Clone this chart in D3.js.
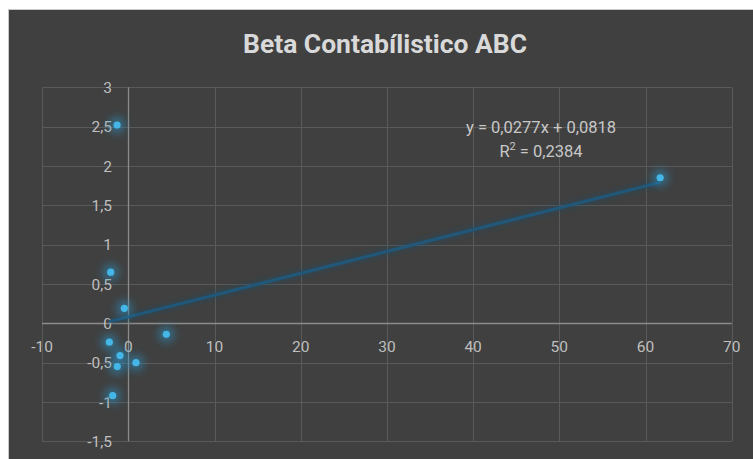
<!DOCTYPE html>
<html>
<head>
<meta charset="utf-8">
<script src="https://cdn.jsdelivr.net/npm/d3@7"></script>
<style>
  html, body { margin: 0; padding: 0; background: #ffffff; }
  svg { display: block; }
</style>
</head>
<body>
<svg id="chart" width="753" height="459"></svg>
<script>
// ---- Data ----
const titleText = "Beta Contabílistico ABC";
const xValues = [-1.3, -2.04, -0.46, 4.41, -2.2, -0.96, -1.28, 0.89, -1.81, 61.7];
const yValues = [2.52, 0.65, 0.19, -0.14, -0.24, -0.41, -0.55, -0.50, -0.92, 1.85];
const xTicks = [-10, 0, 10, 20, 30, 40, 50, 60, 70];
const yTicks = [-1.5, -1, -0.5, 0, 0.5, 1, 1.5, 2, 2.5, 3];
const trendCoef = [0.0277, 0.0818]; // slope, intercept
const equationText = "y = 0,0277x + 0,0818";
const r2Value = "0,2384";

// ---- Setup ----
const svg = d3.select("#chart");
const W = 753, H = 459;
const locale = d3.formatLocale({decimal: ",", thousands: ".", grouping: [3], currency: ["", ""]});
const fmt = v => locale.format("")(v).replace("−", "-");

const x = d3.scaleLinear().domain([-10, 70]).range([42.1, 731.7]);
const y = d3.scaleLinear().domain([-1.5, 3]).range([441.3, 87.3]);

const defs = svg.append("defs");
const glow = defs.append("filter").attr("id", "glow").attr("x", "-200%").attr("y", "-200%").attr("width", "500%").attr("height", "500%");
glow.append("feGaussianBlur").attr("stdDeviation", 4);
const lglow = defs.append("filter").attr("id", "lglow").attr("x", "-10%").attr("y", "-50%").attr("width", "120%").attr("height", "200%");
lglow.append("feGaussianBlur").attr("stdDeviation", 2);

// chart background
svg.append("rect").attr("x", 8.5).attr("y", 9.5).attr("width", W).attr("height", H)
  .attr("fill", "#404040").attr("stroke", "#c8c8c8").attr("stroke-width", 1);

// title
svg.append("text").attr("x", 385).attr("y", 53)
  .attr("text-anchor", "middle")
  .attr("font-family", "Roboto, 'Liberation Sans', sans-serif")
  .attr("font-weight", "bold").attr("font-size", 25)
  .attr("fill", "#d9d9d9")
  .attr("textLength", 284).attr("lengthAdjust", "spacingAndGlyphs")
  .text(titleText);

// gridlines
const grid = svg.append("g").attr("stroke", "#5a5a5a").attr("stroke-width", 1);
grid.selectAll(".gx").data(xTicks.filter(d => d !== 0)).enter().append("line")
  .attr("x1", d => Math.round(x(d)) + 0.5).attr("x2", d => Math.round(x(d)) + 0.5)
  .attr("y1", y(3)).attr("y2", y(-1.5));
grid.selectAll(".gy").data(yTicks.filter(d => d !== 0)).enter().append("line")
  .attr("y1", d => Math.round(y(d)) + 0.5).attr("y2", d => Math.round(y(d)) + 0.5)
  .attr("x1", x(-10)).attr("x2", x(70));

// axes lines (zero)
svg.append("line").attr("x1", x(-10)).attr("x2", x(70))
  .attr("y1", Math.round(y(0)) + 0.5).attr("y2", Math.round(y(0)) + 0.5)
  .attr("stroke", "#8c8c8c").attr("stroke-width", 1.3);
svg.append("line").attr("y1", y(3)).attr("y2", y(-1.5))
  .attr("x1", Math.round(x(0)) + 0.5).attr("x2", Math.round(x(0)) + 0.5)
  .attr("stroke", "#8c8c8c").attr("stroke-width", 1.3);

// tick labels
const labelFont = "Roboto, 'Liberation Sans', sans-serif";
svg.append("g").selectAll("text").data(yTicks).enter().append("text")
  .attr("x", 112).attr("y", d => y(d)).attr("dy", "0.36em")
  .attr("text-anchor", "end").attr("font-family", labelFont).attr("font-size", 15.5)
  .attr("fill", "#bfbfbf").text(d => fmt(d));
svg.append("g").selectAll("text").data(xTicks).enter().append("text")
  .attr("x", d => x(d)).attr("y", y(0) + 28.5)
  .attr("text-anchor", "middle").attr("font-family", labelFont).attr("font-size", 15.5)
  .attr("fill", "#bfbfbf").text(d => fmt(d));

// trendline
const xMin = d3.min(xValues), xMax = d3.max(xValues);
const tl = [[xMin, trendCoef[0] * xMin + trendCoef[1]], [xMax, trendCoef[0] * xMax + trendCoef[1]]];
const lineGen = d3.line().x(d => x(d[0])).y(d => y(d[1]));
svg.append("path").attr("d", lineGen(tl)).attr("stroke", "#1d4d66").attr("stroke-width", 7)
  .attr("fill", "none").attr("opacity", 0.45).attr("filter", "url(#lglow)");
svg.append("path").attr("d", lineGen(tl)).attr("stroke", "#21587a").attr("stroke-width", 3)
  .attr("fill", "none");

// points
const pts = xValues.map((v, i) => [v, yValues[i]]);
svg.append("g").selectAll("circle").data(pts).enter().append("circle")
  .attr("cx", d => x(d[0])).attr("cy", d => y(d[1])).attr("r", 8)
  .attr("fill", "#2a8fbf").attr("opacity", 0.6).attr("filter", "url(#glow)");
svg.append("g").selectAll("circle").data(pts).enter().append("circle")
  .attr("cx", d => x(d[0])).attr("cy", d => y(d[1])).attr("r", 3.6)
  .attr("fill", "#45b6e8");

// equation
const eq = svg.append("g").attr("font-family", labelFont).attr("font-size", 16.5).attr("fill", "#c8c8c8")
  .attr("text-anchor", "middle");
eq.append("text").attr("x", 541).attr("y", 133).text(equationText);
const r2 = eq.append("text").attr("x", 541).attr("y", 157);
r2.append("tspan").text("R");
r2.append("tspan").attr("font-size", 11).attr("dy", -7).text("2");
r2.append("tspan").attr("dy", 7).text(" = " + r2Value);
</script>
</body>
</html>
